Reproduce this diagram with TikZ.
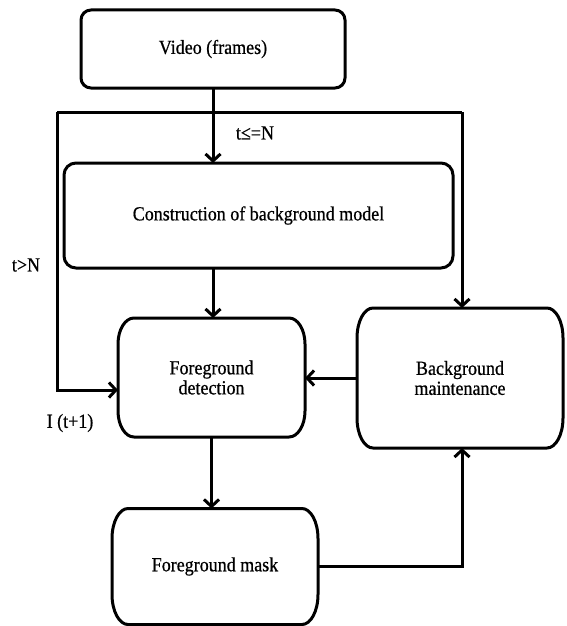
\documentclass[tikz,border=0pt]{standalone}
\usepackage{fontspec}
\setmainfont{Liberation Serif}[FakeStretch=0.9,FakeBold=0.6]
\usetikzlibrary{arrows.meta}
\newcommand\ebox[3]{%
  \draw[boxline] ([xshift=#2]#1.north west) -- ([xshift=-#2]#1.north east)
    arc[start angle=90,end angle=0,x radius=#2,y radius=#3]
    -- ([yshift=#3]#1.south east)
    arc[start angle=0,end angle=-90,x radius=#2,y radius=#3]
    -- ([xshift=#2]#1.south west)
    arc[start angle=-90,end angle=-180,x radius=#2,y radius=#3]
    -- ([yshift=-#3]#1.north west)
    arc[start angle=180,end angle=90,x radius=#2,y radius=#3] -- cycle;}
\begin{document}
\begin{tikzpicture}[x=1pt,y=-1pt,
  boxline/.style={line width=3pt},
  blk/.style={inner sep=0pt,outer sep=0pt,align=center,font=\fontsize{20}{22}\selectfont},
  lbl/.style={inner sep=0pt,font=\fontsize{20}{22}\selectfont},
  arr/.style={line width=3pt,-{Straight Barb[length=7pt,width=15pt]}},
  ln/.style={line width=3pt}]
\useasboundingbox (0,0) rectangle (566,626);
\node[blk,minimum width=264pt,minimum height=78pt] (video) at (213,49) {Video (frames)};
\node[blk,minimum width=389pt,minimum height=105pt] (cons) at (258.5,215.5) {Construction of background model};
\node[blk,minimum width=187pt,minimum height=119pt] (fd) at (211.5,377.5) {Foreground\\[-2pt]detection};
\node[blk,minimum width=206pt,minimum height=140pt] (bm) at (460,378) {Background\\[-2pt]maintenance};
\node[blk,minimum width=206pt,minimum height=116pt] (fm) at (215,566.5) {Foreground mask};
\ebox{video}{10pt}{10pt}
\ebox{cons}{12pt}{12pt}
\ebox{fd}{16pt}{26pt}
\ebox{bm}{16pt}{30pt}
\ebox{fm}{16pt}{30pt}
\coordinate (jl) at (57,112);
\coordinate (jr) at (462,112);
\coordinate (jin) at (57,390);
\draw[arr] (video.south) -- (video.south |- cons.north);
\draw[ln] (jl) -- (jr);
\draw[arr] (jl) -- (jin) -- (jin -| fd.west);
\draw[arr] (jr) -- (jr |- bm.north);
\draw[arr] (video.south |- cons.south) -- (video.south |- fd.north);
\draw[arr] (bm.west) -- (bm.west -| fd.east);
\draw[arr] (fd.south) -- (fd.south |- fm.north);
\draw[arr] (fm.east) -| (jr |- bm.south);
\node[lbl] (l1) at (255,133) {t≤=N};
\node[lbl] (l2) at (26,265) {t>N};
\node[lbl] (l3) at (70,423) {I (t+1)};
\end{tikzpicture}
\end{document}
